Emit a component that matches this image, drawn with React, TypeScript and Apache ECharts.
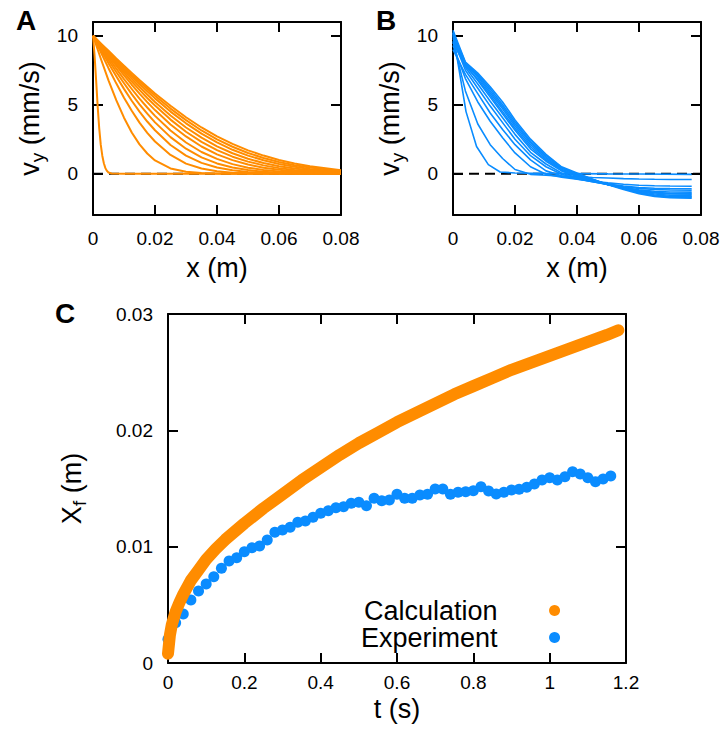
import React, { useEffect, useRef } from "react";
import * as echarts from "echarts";

const FONT = "Arial, 'Liberation Sans', Helvetica, sans-serif";
const ORANGE = "#FF8C00";
const BLUE = "#0A8CFF";

// ---------- Panel A (calculation profiles) ----------
const A_X = [0, 0.0025, 0.005, 0.0075, 0.01, 0.0125, 0.015, 0.0175, 0.02, 0.025, 0.03, 0.035, 0.04, 0.045, 0.05, 0.055, 0.06, 0.065, 0.07, 0.075, 0.08];
const A_STEEP_X = [0, 0.0005, 0.001, 0.0015, 0.002, 0.0025, 0.003, 0.0035, 0.004, 0.0045, 0.005, 0.006, 0.01, 0.08];
const A_STEEP_V = [10, 8.6, 6.8, 4.9, 3.3, 2.1, 1.3, 0.75, 0.4, 0.2, 0.08, 0.01, 0, 0];
const A_C2 = [10, 8.35, 6.77, 5.33, 4.06, 2.99, 2.12, 1.46, 0.96, 0.38, 0.13, 0.04, 0.01, 0, 0, 0, 0, 0, 0, 0, 0];
const A_C3 = [10, 8.82, 7.65, 6.55, 5.51, 4.56, 3.7, 2.96, 2.33, 1.36, 0.73, 0.37, 0.17, 0.07, 0.03, 0.01, 0, 0, 0, 0, 0];
const A_C4 = [10, 9.0, 8.01, 7.06, 6.15, 5.29, 4.5, 3.78, 3.15, 2.08, 1.31, 0.78, 0.44, 0.24, 0.12, 0.06, 0.03, 0.01, 0.01, 0, 0];
const A_C5 = [10, 9.11, 8.23, 7.37, 6.56, 5.77, 5.03, 4.35, 3.72, 2.65, 1.81, 1.18, 0.74, 0.45, 0.26, 0.14, 0.07, 0.04, 0.02, 0.01, 0.01];
const A_C6 = [10, 9.2, 8.4, 7.62, 6.86, 6.14, 5.44, 4.8, 4.19, 3.13, 2.26, 1.57, 1.07, 0.69, 0.43, 0.27, 0.16, 0.1, 0.07, 0.06, 0.05];
const A_C7 = [10, 9.27, 8.54, 7.83, 7.13, 6.45, 5.8, 5.19, 4.61, 3.57, 2.7, 1.97, 1.4, 0.98, 0.66, 0.43, 0.28, 0.17, 0.11, 0.09, 0.08];
const A_C8 = [10, 9.32, 8.64, 7.97, 7.32, 6.68, 6.08, 5.49, 4.94, 3.92, 3.04, 2.31, 1.71, 1.23, 0.87, 0.6, 0.4, 0.26, 0.17, 0.12, 0.1];
const A_C9 = [10, 9.36, 8.72, 8.1, 7.48, 6.88, 6.3, 5.74, 5.2, 4.22, 3.35, 2.61, 1.98, 1.48, 1.08, 0.77, 0.54, 0.37, 0.25, 0.17, 0.12];
const A_C10 = [10, 9.4, 8.8, 8.21, 7.62, 7.06, 6.5, 5.97, 5.46, 4.5, 3.65, 2.9, 2.27, 1.73, 1.31, 0.97, 0.7, 0.5, 0.34, 0.23, 0.15];
const A_C11 = [10, 9.43, 8.85, 8.29, 7.73, 7.18, 6.66, 6.15, 5.65, 4.72, 3.88, 3.13, 2.49, 1.95, 1.5, 1.14, 0.84, 0.61, 0.44, 0.31, 0.2];
const A_C12 = [10, 9.45, 8.91, 8.36, 7.83, 7.31, 6.79, 6.31, 5.82, 4.92, 4.09, 3.35, 2.71, 2.16, 1.69, 1.31, 0.99, 0.74, 0.54, 0.39, 0.25];
const A_CURVES = [A_C2, A_C3, A_C4, A_C5, A_C6, A_C7, A_C8, A_C9, A_C10, A_C11, A_C12];

// ---------- Panel B (experiment profiles) ----------
const B1_X = [0, 0.0042, 0.0076, 0.0114, 0.0152, 0.02, 0.03, 0.04, 0.05, 0.06, 0.077];
const B1_V = [10.2, 4.5, 1.97, 0.65, 0.12, 0.05, 0.02, 0, -0.02, -0.03, -0.05];
const B_X = [0, 0.004, 0.008, 0.012, 0.016, 0.02, 0.025, 0.03, 0.035, 0.04, 0.045, 0.05, 0.055, 0.06, 0.065, 0.07, 0.077];
const B_C2 = [9.6, 6.0, 3.6, 2.1, 1.1, 0.3, -0.05, -0.12, -0.18, -0.23, -0.28, -0.32, -0.36, -0.39, -0.41, -0.42, -0.43];
const B_C3 = [9.3, 6.9, 5.2, 3.8, 2.6, 1.5, 0.5, -0.05, -0.25, -0.4, -0.55, -0.67, -0.77, -0.84, -0.88, -0.9, -0.91];
const B_C4 = [9.0, 7.2, 5.8, 4.4, 3.2, 2.1, 1.0, 0.2, -0.15, -0.38, -0.58, -0.76, -0.9, -1.0, -1.06, -1.09, -1.1];
const B_C5 = [9.8, 7.5, 6.2, 4.9, 3.7, 2.5, 1.3, 0.5, -0.05, -0.35, -0.58, -0.78, -0.95, -1.07, -1.15, -1.19, -1.2];
const B_C6 = [10.0, 7.7, 6.5, 5.25, 4.05, 2.85, 1.55, 0.7, 0.05, -0.28, -0.55, -0.8, -1.0, -1.17, -1.28, -1.33, -1.34];
const B_C7 = [10.3, 7.9, 6.75, 5.55, 4.35, 3.15, 1.8, 0.9, 0.2, -0.2, -0.5, -0.78, -1.02, -1.22, -1.36, -1.43, -1.45];
const B_C8 = [9.5, 7.8, 6.85, 5.7, 4.5, 3.3, 1.95, 1.0, 0.25, -0.15, -0.48, -0.78, -1.03, -1.25, -1.4, -1.48, -1.5];
const B_C9 = [10.1, 7.95, 7.0, 5.85, 4.7, 3.45, 2.1, 1.1, 0.32, -0.1, -0.45, -0.78, -1.06, -1.3, -1.48, -1.57, -1.6];
const B_C10 = [9.9, 8.0, 7.1, 6.0, 4.85, 3.6, 2.25, 1.2, 0.4, -0.05, -0.42, -0.78, -1.08, -1.35, -1.55, -1.64, -1.66];
const B_C11 = [10.2, 8.05, 7.2, 6.15, 5.0, 3.75, 2.35, 1.3, 0.45, 0.0, -0.4, -0.78, -1.1, -1.4, -1.6, -1.7, -1.72];
const B_C12 = [10.4, 8.1, 7.3, 6.3, 5.2, 3.9, 2.5, 1.4, 0.5, 0.05, -0.4, -0.8, -1.15, -1.45, -1.65, -1.75, -1.79];
const B_CURVES = [B_C2, B_C3, B_C4, B_C5, B_C6, B_C7, B_C8, B_C9, B_C10, B_C11, B_C12];

// ---------- Panel C (front position) ----------
const C_CALC_T = [0, 0.005, 0.01, 0.02, 0.03, 0.04, 0.06, 0.08, 0.1, 0.125, 0.15, 0.2, 0.25, 0.3, 0.35, 0.4, 0.45, 0.5, 0.55, 0.6, 0.65, 0.7, 0.75, 0.8, 0.85, 0.9, 0.95, 1.0, 1.05, 1.1, 1.15, 1.18];
const C_CALC_X = [0.0008, 0.0024, 0.0033, 0.0044, 0.0052, 0.0059, 0.0071, 0.008, 0.0089, 0.0098, 0.0106, 0.012, 0.0133, 0.0145, 0.0157, 0.0168, 0.0179, 0.0189, 0.0198, 0.0207, 0.0215, 0.0223, 0.0231, 0.0238, 0.0245, 0.0252, 0.0258, 0.0264, 0.027, 0.0276, 0.0282, 0.0286];
const C_EXP_T = [0, 0.02, 0.04, 0.06, 0.08, 0.1, 0.12, 0.14, 0.16, 0.18, 0.2, 0.22, 0.24, 0.26, 0.28, 0.3, 0.32, 0.34, 0.36, 0.38, 0.4, 0.42, 0.44, 0.46, 0.48, 0.5, 0.52, 0.54, 0.56, 0.58, 0.6, 0.62, 0.64, 0.66, 0.68, 0.7, 0.72, 0.74, 0.76, 0.78, 0.8, 0.82, 0.84, 0.86, 0.88, 0.9, 0.92, 0.94, 0.96, 0.98, 1.0, 1.02, 1.04, 1.06, 1.08, 1.1, 1.12, 1.14, 1.16];
const C_EXP_X = [0.00204, 0.00347, 0.00421, 0.00541, 0.00619, 0.00679, 0.00742, 0.00814, 0.00877, 0.00905, 0.00957, 0.00991, 0.01006, 0.01057, 0.01123, 0.01143, 0.01166, 0.01209, 0.01221, 0.01252, 0.01287, 0.01309, 0.01335, 0.01344, 0.01373, 0.01381, 0.01352, 0.01416, 0.01395, 0.01401, 0.0145, 0.01416, 0.01416, 0.01444, 0.0145, 0.01496, 0.01496, 0.0145, 0.01467, 0.01473, 0.01481, 0.01516, 0.01479, 0.01453, 0.01467, 0.01487, 0.01493, 0.0151, 0.01539, 0.01573, 0.01593, 0.01573, 0.01601, 0.01644, 0.01625, 0.01593, 0.01559, 0.01582, 0.01607];

const A_Y_TICKS = [0, 5, 10];

const zip = (xs: number[], ys: number[]) => xs.map((x, i) => [x, ys[i]]);

const axisLine = { show: true, onZero: false, lineStyle: { color: "#000", width: 2 } };
const tickStyle = { show: true, inside: true, length: 10, lineStyle: { color: "#000", width: 2 } };
const labelText = { color: "#000", fontFamily: FONT, fontSize: 19 };
const nameText = { color: "#000", fontFamily: FONT, fontSize: 27 };
const richName = {
  color: "#000",
  fontFamily: FONT,
  fontSize: 27,
  rich: {
    m: { fontFamily: FONT, fontSize: 27, color: "#000", lineHeight: 27 },
    s: { fontFamily: FONT, fontSize: 19, color: "#000", lineHeight: 19, padding: [16, 0, 0, 0] },
  },
};

function xPair(grid: number, min: number, max: number, interval: number, name: string, gap: number, margin: number) {
  return [
    {
      type: "value", gridIndex: grid, min, max, interval, position: "bottom",
      axisLine, axisTick: tickStyle, splitLine: { show: false },
      axisLabel: { ...labelText, margin },
      name, nameLocation: "middle", nameGap: gap, nameTextStyle: nameText,
    },
    {
      type: "value", gridIndex: grid, min, max, interval, position: "top",
      axisLine, axisTick: tickStyle, splitLine: { show: false }, axisLabel: { show: false },
    },
  ];
}

function yPair(grid: number, min: number, max: number, interval: number | null, ticks: number[] | null, name: string, gap: number) {
  const base: any = { type: "value", gridIndex: grid, min, max, splitLine: { show: false }, axisLine };
  if (interval != null) base.interval = interval;
  const tick: any = ticks ? { ...tickStyle, customValues: ticks } : tickStyle;
  return [
    {
      ...base, position: "left", axisTick: tick,
      axisLabel: ticks ? { ...labelText, margin: 15, customValues: ticks } : { ...labelText, margin: 15 },
      name, nameLocation: "middle", nameGap: gap, nameTextStyle: richName,
    },
    { ...base, position: "right", axisTick: tick, axisLabel: { show: false } },
  ];
}

export default function App() {
  const ref = useRef<HTMLDivElement>(null);
  useEffect(() => {
    if (!ref.current) return;
    const chart = echarts.init(ref.current, null, { renderer: "svg" });

    const series: any[] = [];
    [0, 1].forEach((g) => {
      series.push({
        type: "line", xAxisIndex: g * 2, yAxisIndex: g * 2, data: [[0, 0], [0.08, 0]],
        showSymbol: false, silent: true,
        lineStyle: { color: "#000", width: 2, type: [10, 6] },
      });
    });
    series.push({
      type: "line", xAxisIndex: 0, yAxisIndex: 0, data: zip(A_STEEP_X, A_STEEP_V),
      showSymbol: false, lineStyle: { color: ORANGE, width: 2, join: "round" },
    });
    A_CURVES.forEach((c) => {
      series.push({
        type: "line", xAxisIndex: 0, yAxisIndex: 0, data: zip(A_X, c),
        showSymbol: false, lineStyle: { color: ORANGE, width: 2, join: "round" },
      });
    });
    series.push({
      type: "line", xAxisIndex: 2, yAxisIndex: 2, data: zip(B1_X, B1_V),
      showSymbol: false, lineStyle: { color: BLUE, width: 1.6 },
    });
    B_CURVES.forEach((c) => {
      series.push({
        type: "line", xAxisIndex: 2, yAxisIndex: 2, data: zip(B_X, c),
        showSymbol: false, lineStyle: { color: BLUE, width: 1.6 },
      });
    });
    series.push({
      name: "Calculation", type: "line", xAxisIndex: 4, yAxisIndex: 4,
      data: zip(C_CALC_T, C_CALC_X), showSymbol: false, clip: false,
      color: ORANGE, itemStyle: { color: ORANGE },
      lineStyle: { color: ORANGE, width: 12, cap: "round", join: "round" },
    });
    series.push({
      name: "Experiment", type: "scatter", xAxisIndex: 4, yAxisIndex: 4,
      data: zip(C_EXP_T, C_EXP_X), symbolSize: 11, clip: false,
      itemStyle: { color: BLUE, opacity: 1 },
    });

    const option: any = {
      animation: false,
      backgroundColor: "#fff",
      grid: [
        { left: 93, top: 22, width: 248, height: 193 },
        { left: 453, top: 22, width: 248, height: 193 },
        { left: 168, top: 314, width: 458, height: 349 },
      ],
      xAxis: [
        ...xPair(0, 0, 0.08, 0.02, "x (m)", 39, 14),
        ...xPair(1, 0, 0.08, 0.02, "x (m)", 39, 14),
        ...xPair(2, 0, 1.2, 0.2, "t (s)", 32, 10),
      ],
      yAxis: [
        ...yPair(0, -3, 11, null, A_Y_TICKS, "{m|v}{s|y}{m| (mm/s)}", 50),
        ...yPair(1, -3, 11, null, A_Y_TICKS, "{m|v}{s|y}{m| (mm/s)}", 50),
        ...yPair(2, 0, 0.03, 0.01, null, "{m|X}{s|f}{m| (m)}", 83),
      ],
      legend: {
        data: [
          { name: "Calculation", icon: "circle" },
          { name: "Experiment", icon: "circle" },
        ],
        orient: "vertical", align: "right", left: 361, top: 597,
        itemWidth: 104, itemHeight: 11, itemGap: 0, padding: 0,
        selectedMode: false,
        textStyle: { color: "#000", fontFamily: FONT, fontSize: 27 },
      },
      graphic: [
        { type: "text", left: 16, top: 6, style: { text: "A", font: `bold 28px ${FONT}`, fill: "#000" } },
        { type: "text", left: 376, top: 6, style: { text: "B", font: `bold 28px ${FONT}`, fill: "#000" } },
        { type: "text", left: 55, top: 299, style: { text: "C", font: `bold 28px ${FONT}`, fill: "#000" } },
      ],
      series,
    };
    chart.setOption(option);
    return () => chart.dispose();
  }, []);

  return (
    <div
      ref={ref}
      style={{ position: "fixed", left: 0, top: 0, width: 726, height: 729, background: "#fff" }}
    />
  );
}
